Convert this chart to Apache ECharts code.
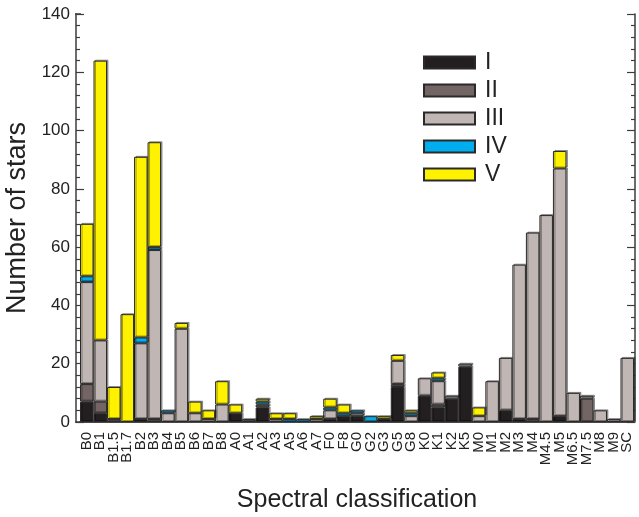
<!DOCTYPE html>
<html>
<head>
<meta charset="utf-8">
<script src="https://cdn.jsdelivr.net/npm/echarts@6/dist/echarts.min.js"></script>
<style>html,body{margin:0;padding:0;background:#fff}#c{width:639px;height:517px}</style>
</head>
<body>
<div id="c"></div>
<script>
const categories = ['B0','B1','B1.5','B1.7','B2','B3','B4','B5','B6','B7','B8','A0','A1','A2','A3','A5','A6','A7','F0','F8','G0','G2','G3','G5','G8','K0','K1','K2','K5','M0','M1','M2','M3','M4','M4.5','M5','M6.5','M7.5','M8','M9','SC'];
const classI   = [7,3,0,0,1,0,0,0,0,0,0,3,0,5,0,0,0,0,1,2,2,0,1,12,0,9,5,8,19,0,0,4,1,0,0,2,0,0,0,0,0];
const classII  = [6,4,1,0,0,1,0,0,0,0,0,0,1,1,0,0,0,0,0,0,0,0,0,1,0,0,1,0,0,0,0,0,0,1,0,0,0,8,0,0,0];
const classIII = [35,21,0,0,26,58,3,32,3,1,6,0,0,0,1,0,0,1,3,0,1,0,0,8,2,6,8,1,1,2,14,18,53,64,71,85,10,1,4,1,22];
const classIV  = [2,0,0,0,2,1,1,0,0,0,0,0,0,1,0,1,1,0,1,1,1,2,0,0,1,0,1,0,0,0,0,0,0,0,0,0,0,0,0,0,0];
const classV   = [18,96,11,37,62,36,0,2,4,3,8,3,0,1,2,2,0,1,3,3,0,0,1,2,1,0,2,0,0,3,0,0,0,0,0,6,0,0,0,0,0];
const yTicks = [0,20,40,60,80,100,120,140];

const seriesDefs = [
  {name:'I', data:classI, color:'#231f20'},
  {name:'II', data:classII, color:'#736563'},
  {name:'III', data:classIII, color:'#c0b6b3'},
  {name:'IV', data:classIV, color:'#00aeef'},
  {name:'V', data:classV, color:'#fff200'}
];
const FONT = '"Liberation Sans", Arial, sans-serif';
const AX = '#3c3c3c';
const chart = echarts.init(document.getElementById('c'), null, {renderer:'canvas'});
chart.setOption({
  animation:false,
  textStyle:{fontFamily:FONT},
  grid:{left:80, right:5, top:14, bottom:95, containLabel:false, outerBoundsMode:'none'},
  legend:{
    orient:'vertical', left:418, top:46, icon:'rect',
    itemWidth:51, itemHeight:12, itemGap:5,
    textStyle:{fontSize:23, color:'#222', fontFamily:FONT, lineHeight:22, padding:[0,0,0,5]},
    data:seriesDefs.map(s=>s.name)
  },
  xAxis:[{
    type:'category', data:categories, position:'bottom',
    name:'Spectral classification', nameLocation:'middle', nameGap:66,
    nameTextStyle:{fontSize:25, color:'#222', fontFamily:FONT},
    axisLine:{lineStyle:{color:AX, width:1.5}},
    axisTick:{alignWithLabel:true, inside:false, length:9, lineStyle:{color:AX, width:1.2}},
    axisLabel:{rotate:90, fontSize:15, color:'#222', margin:10, interval:0, fontFamily:FONT}
  },{
    type:'category', data:categories, position:'top',
    axisLine:{lineStyle:{color:AX, width:1.5}},
    axisTick:{alignWithLabel:true, inside:true, length:8, lineStyle:{color:AX, width:1.2}},
    axisLabel:{show:false}
  }],
  yAxis:[{
    type:'value', min:0, max:140, interval:20, position:'left', offset:4,
    name:'Number of stars', nameLocation:'middle', nameGap:43, nameRotate:90,
    nameTextStyle:{fontSize:27, color:'#222', fontFamily:FONT},
    axisLine:{show:true, lineStyle:{color:AX, width:1.5}},
    axisTick:{show:true, inside:true, length:8, lineStyle:{color:AX, width:1.2}},
    minorTick:{show:true, splitNumber:5, length:4, lineStyle:{color:AX, width:1.2}},
    axisLabel:{fontSize:17, color:'#222', margin:6, fontFamily:FONT,
      formatter:v=>yTicks.includes(v)?String(v):''},
    splitLine:{show:false}
  },{
    type:'value', min:0, max:140, interval:20, position:'right', offset:1,
    axisLine:{show:true, lineStyle:{color:AX, width:1.5}},
    axisTick:{show:true, inside:true, length:8, lineStyle:{color:AX, width:1.2}},
    minorTick:{show:true, splitNumber:5, length:4, lineStyle:{color:AX, width:1.2}},
    axisLabel:{show:false},
    splitLine:{show:false}
  }],
  graphic:[{type:'line', shape:{x1:75, y1:422, x2:81, y2:422}, style:{stroke:AX, lineWidth:1.5}},
           {type:'line', shape:{x1:75, y1:14, x2:81, y2:14}, style:{stroke:AX, lineWidth:1.5}}],
  series:seriesDefs.map(s=>({
    name:s.name, type:'bar', stack:'all', xAxisIndex:0, yAxisIndex:0,
    barWidth:'100%',
    itemStyle:{color:s.color, borderColor:'#2a2a2a', borderWidth:1,
      shadowColor:'rgba(0,0,0,0.35)', shadowOffsetX:1.5, shadowOffsetY:-1, shadowBlur:0},
    data:s.data.map(v=>v===0?null:v)
  }))
});
</script>
</body>
</html>
